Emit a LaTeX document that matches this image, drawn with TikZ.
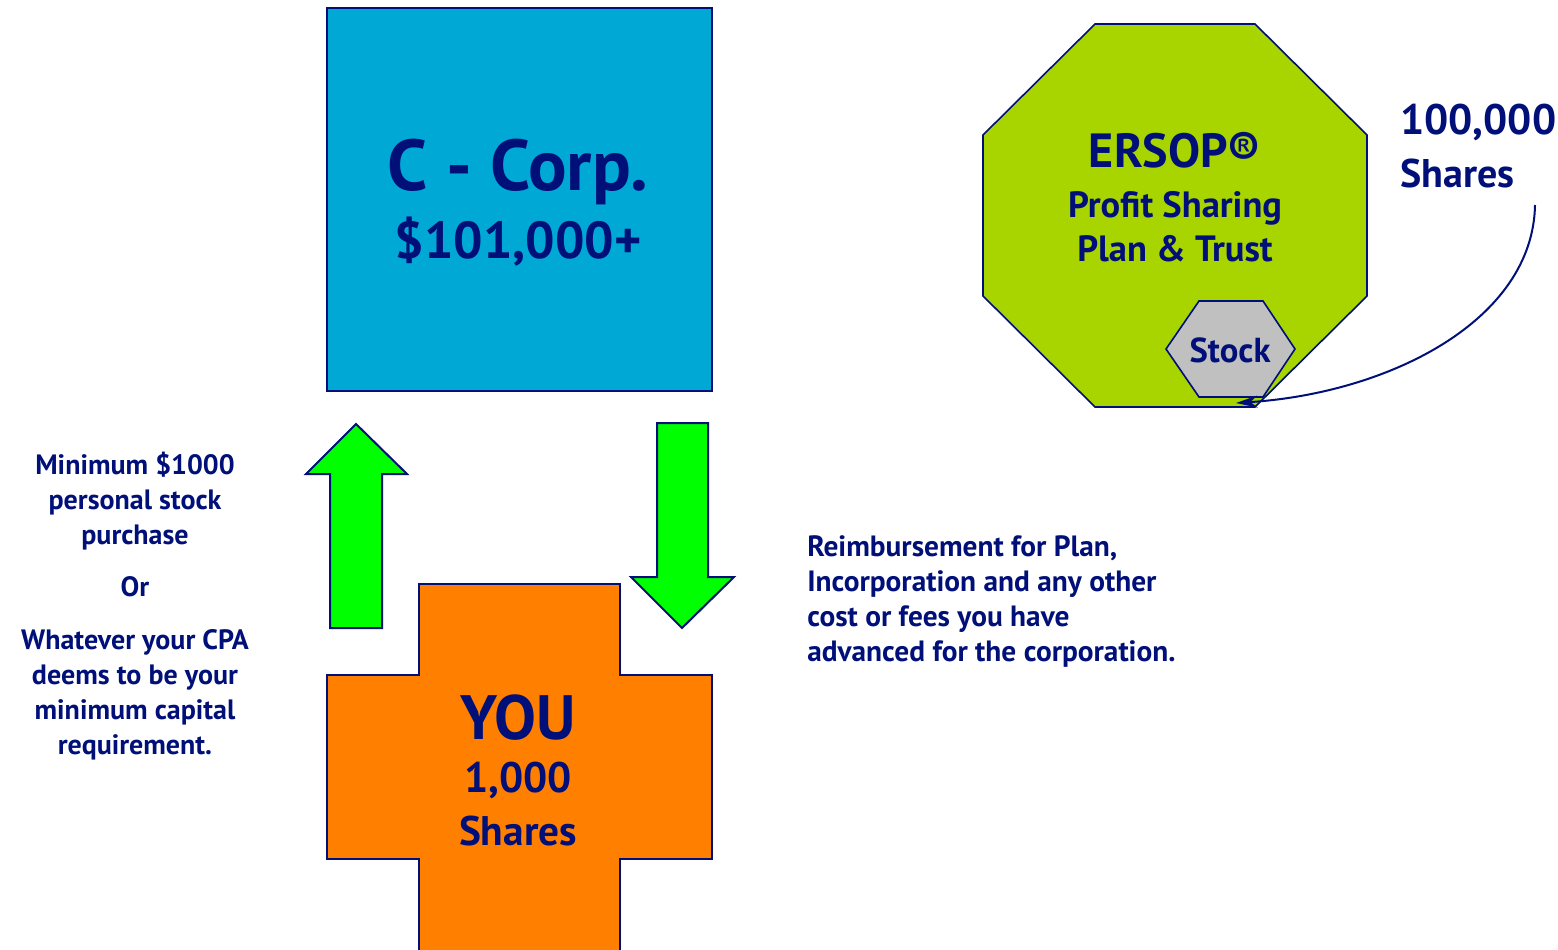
\documentclass[tikz,border=0pt]{standalone}
\usepackage{fontspec}
\setmainfont{PT Sans}
\usetikzlibrary{arrows.meta}
\definecolor{navy}{RGB}{0,16,120}
\definecolor{corpblue}{RGB}{0,168,214}
\definecolor{planlime}{RGB}{168,212,0}
\definecolor{youorange}{RGB}{255,127,0}
\definecolor{flowgreen}{RGB}{0,255,0}
\definecolor{stockgray}{RGB}{192,192,192}
\newcommand{\fsz}[2]{\fontsize{#1}{#2}\selectfont}
\begin{document}
\begin{tikzpicture}[x=0.75pt,y=-0.75pt,
  outline/.style={draw=navy,line width=1.5pt,line join=miter},
  lbl/.style={text=navy,inner sep=0pt,align=center},
  flow/.style={outline,fill=flowgreen}]
\useasboundingbox (0,0) rectangle (1558,949);
\clip (0,0) rectangle (1558,949);

% C corporation box
\draw[outline,fill=corpblue] (327,8) rectangle (712,391);
\node[lbl,font=\bfseries\fsz{54}{60}] (corp) at (518,172) {C - Corp.};
\node[lbl,font=\bfseries\fsz{39}{45}] (corpcap) at (518,242) {\$101,000+};

% block arrows between you and the corporation
\draw[flow] (356,424) -- (407,474) -- (382,474) -- (382,628) -- (330,628)
  -- (330,474) -- (306,474) -- cycle;
\draw[flow] (657,423) -- (708,423) -- (708,577) -- (734,577) -- (682,628)
  -- (631,577) -- (657,577) -- cycle;

% YOU cross
\draw[outline,fill=youorange] (419,584) -- (620,584) -- (620,675) -- (712,675)
  -- (712,859) -- (620,859) -- (620,960) -- (419,960) -- (419,859) -- (327,859)
  -- (327,675) -- (419,675) -- cycle;
\node[lbl,font=\bfseries\fsz{47}{52}] (you) at (518,718) {YOU};
\node[lbl,font=\bfseries\fsz{32}{38}] (youshares) at (518,780) {1,000};
\node[lbl,font=\bfseries\fsz{31}{38}] (youlabel) at (518,831) {Shares};

% notes
\node[lbl,font=\bfseries\fsz{21}{26.25},align=center,anchor=north] (buyin) at (135,452)
  {Minimum \$1000\\personal stock\\purchase\\[12.75pt]
   Or\\[13.5pt]Whatever your CPA\\deems to be your\\minimum capital\\requirement.};
\node[lbl,font=\bfseries\fsz{22}{26.4},align=left,anchor=north west] (refund) at (807,535)
  {Reimbursement for Plan,\\Incorporation and any other\\
   cost or fees you have\\advanced for the corporation.};

% ERSOP plan octagon
\draw[outline,line width=1.2pt,fill=planlime] (1095,24) -- (1255,24) -- (1367,135)
  -- (1367,296) -- (1255,407) -- (1095,407) -- (983,296) -- (983,135) -- cycle;
\node[lbl,font=\bfseries\fsz{36}{42}] (ersop) at (1175,150) {ERSOP®};
\node[lbl,font=\bfseries\fsz{27.4}{33}] (plan) at (1175,227)
  {Profit Sharing\\Plan \& Trust};

% stock hexagon
\draw[outline,line width=1.2pt,fill=stockgray] (1166,349) -- (1199,301) -- (1263,301)
  -- (1295,349) -- (1263,397) -- (1199,397) -- cycle;
\node[lbl,font=\bfseries\fsz{26}{30}] (stock) at (1230,350) {Stock};
\coordinate (stockin) at (1236,403);

% share allocation
\node[lbl,font=\bfseries\fsz{32}{38},anchor=west] (plancount) at (1400,122) {100,000};
\node[lbl,font=\bfseries\fsz{30}{36},anchor=west] (planshares) at (1400,173) {Shares};
\coordinate (tail) at (1535,205);
\draw[navy,line width=1.5pt,-{Stealth[length=16pt,width=9pt]}] (tail)
  .. controls (1533,320) and (1390,393) .. (stockin);
\end{tikzpicture}
\end{document}
